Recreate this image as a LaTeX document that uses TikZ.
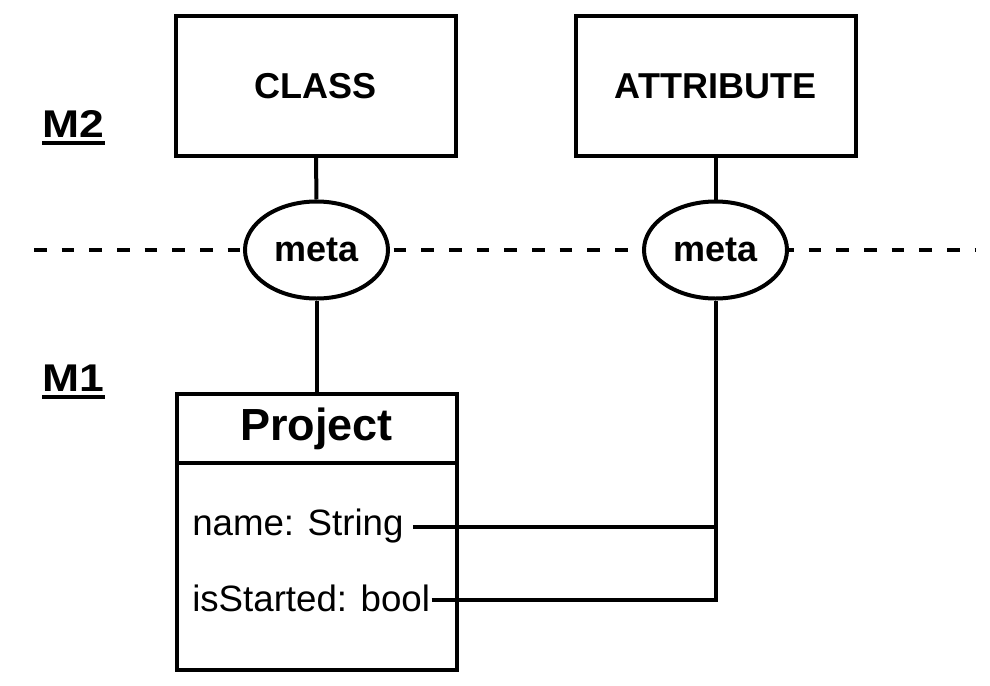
\documentclass[tikz,border=0pt]{standalone}
\usepackage{fontspec}
\setmainfont{Liberation Sans}
\usetikzlibrary{shapes.geometric}
\begin{document}
\begin{tikzpicture}[x=0.75pt,y=-0.75pt,
  box/.style={draw,line width=3pt,minimum width=280*0.75pt,minimum height=140*0.75pt,inner sep=0pt,font=\fontsize{27}{32}\selectfont\bfseries},
  metanode/.style={ellipse,draw,fill=white,line width=3pt,minimum width=143*0.75pt,minimum height=97*0.75pt,inner sep=0pt,font=\fontsize{27}{32}\selectfont\bfseries},
  conn/.style={line width=3pt},
  lvl/.style={inner sep=0pt,anchor=base,font=\fontsize{29}{34}\selectfont\bfseries},
  attr/.style={inner sep=0pt,anchor=base west,font=\fontsize{27.5}{32}\selectfont},
  umlpart/.style={draw,line width=3pt,minimum width=280*0.75pt,inner sep=0pt}]
\useasboundingbox (0,0) rectangle (990,686);
% level separator
\draw[line width=3pt, dash pattern=on 9.5pt off 11.25pt] (34,250) -- (976,250);
% M2 elements
\node[box] (class) at (316,86) {CLASS};
\node[box] (attrib) at (715.5,86) {ATTRIBUTE};
\node[metanode] (m1) at (316.5,250) {meta};
\node[metanode] (m2) at (715.5,250) {meta};
% level labels
\node[lvl] (lM2) at (73.5,137) {\scalebox{1.15}[1]{M2}};
\node[lvl] (lM1) at (73.5,391) {\scalebox{1.15}[1]{M1}};
\draw[line width=2.6pt] ([yshift=-4.6pt]lM2.base west) -- ([yshift=-4.6pt]lM2.base east);
\draw[line width=2.6pt] ([yshift=-4.6pt]lM1.base west) -- ([yshift=-4.6pt]lM1.base east);
% M1 class
\node[umlpart,minimum height=69*0.75pt,font=\fontsize{33.75}{40}\selectfont\bfseries] (head) at (316.5,428.5) {Project};
\node[umlpart,minimum height=207*0.75pt] (body) at (316.5,566.5) {};
\node[attr] (nm) at (192,535) {name: String};
\node[attr] (is) at (192,611) {isStarted: bool};
\coordinate (c1) at (715.5,527);
\coordinate (c2) at (715.5,600);
% connectors
\draw[conn] (class.south) -- (m1.north);
\draw[conn] (m1.south) -- (head.north);
\draw[conn] (attrib.south) -- (m2.north);
\draw[conn,line join=miter] ([xshift=1pt]is.east |- c2) -- (c2) -- (m2.south);
\draw[conn] ([xshift=6.75pt]nm.east |- c1) -- (c1);
\end{tikzpicture}
\end{document}
